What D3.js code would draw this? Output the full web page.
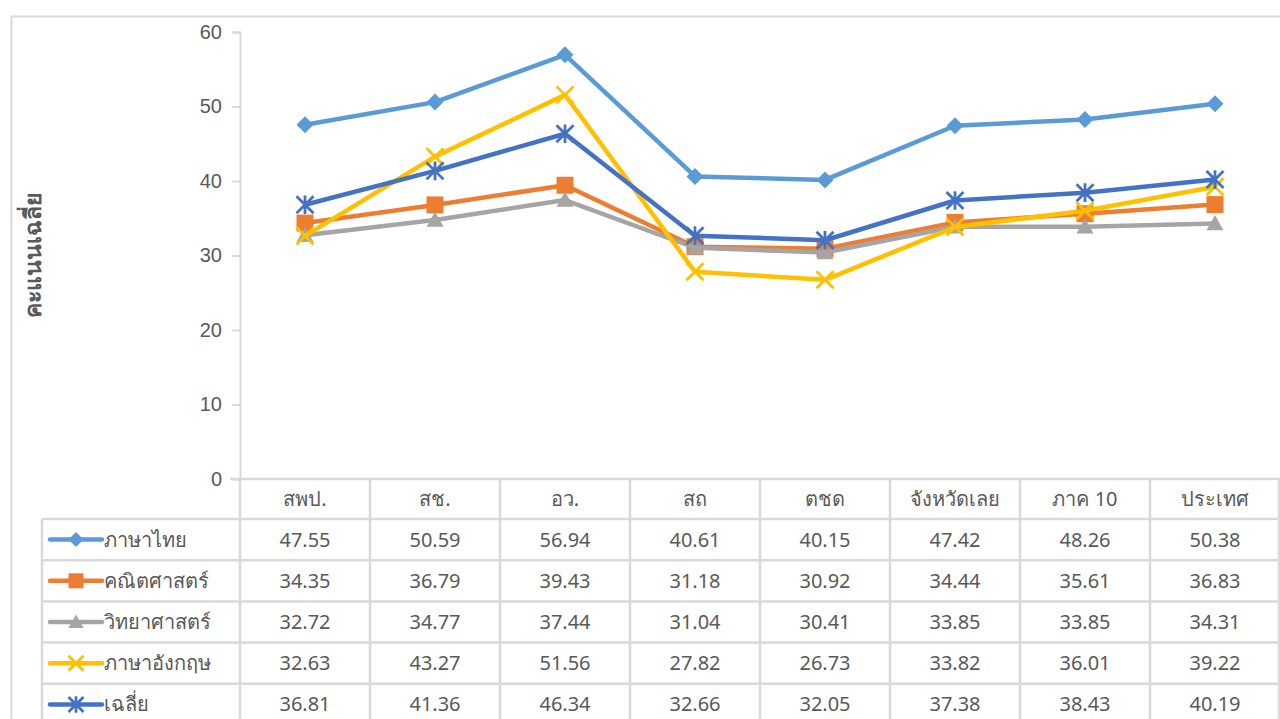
<!DOCTYPE html>
<html>
<head>
<meta charset="utf-8">
<script src="https://cdn.jsdelivr.net/npm/d3@7"></script>
<style>
  body { margin: 0; background: #fff; }
  svg { display: block; font-family: "Noto Sans", Tahoma, "DejaVu Sans", sans-serif; }
</style>
</head>
<body>
<svg width="1280" height="719"></svg>
<script>
// data
const categories = ["สพป.", "สช.", "อว.", "สถ", "ตชด", "จังหวัดเลย", "ภาค 10", "ประเทศ"];
const seriesNames = ["ภาษาไทย", "คณิตศาสตร์", "วิทยาศาสตร์", "ภาษาอังกฤษ", "เฉลี่ย"];
const thai = [47.55, 50.59, 56.94, 40.61, 40.15, 47.42, 48.26, 50.38];
const math = [34.35, 36.79, 39.43, 31.18, 30.92, 34.44, 35.61, 36.83];
const science = [32.72, 34.77, 37.44, 31.04, 30.41, 33.85, 33.85, 34.31];
const english = [32.63, 43.27, 51.56, 27.82, 26.73, 33.82, 36.01, 39.22];
const average = [36.81, 41.36, 46.34, 32.66, 32.05, 37.38, 38.43, 40.19];
const yTicks = [0, 10, 20, 30, 40, 50, 60];

const colors = ["#5B9BD5", "#ED7D31", "#A5A5A5", "#FFC000", "#4472C4"];
const markers = ["diamond", "square", "triangle", "x", "star"];
const series = [thai, math, science, english, average].map((v, i) => ({
  name: seriesNames[i], values: v, color: colors[i], marker: markers[i]
}));

const svg = d3.select("svg");
const grey = "#595959", rule = "#d9d9d9";

// outer chart border
svg.append("rect").attr("x", 11.5).attr("y", 16.5).attr("width", 1300).attr("height", 800)
  .attr("fill", "none").attr("stroke", rule).attr("stroke-width", 2);

const plotLeft = 240, plotRight = 1280, plotTop = 32, plotBottom = 479;
const x = d3.scaleBand().domain(categories).range([plotLeft, plotRight]);
const y = d3.scaleLinear().domain([0, 60]).range([plotBottom, plotTop]);
const cx = j => x(categories[j]) + x.bandwidth() / 2;

// y axis
const yAxis = svg.append("g").attr("transform", `translate(${plotLeft},0)`)
  .call(d3.axisLeft(y).tickValues(yTicks).tickSize(8).tickPadding(10));
yAxis.select(".domain").attr("stroke", rule).attr("stroke-width", 2);
yAxis.selectAll(".tick line").attr("stroke", rule).attr("stroke-width", 2);
yAxis.selectAll(".tick text").attr("fill", grey).style("font-size", "20px")
  .style("font-family", "inherit");

svg.append("text").attr("transform", `translate(41,255) rotate(-90)`)
  .attr("text-anchor", "middle").attr("fill", grey).style("font-size", "23px")
  .style("font-weight", "bold").text("คะแนนเฉลี่ย");

// data table
const rowH = 41.2, headTop = plotBottom, headBot = 519, tableLeft = 42;
const rowY = i => headBot + i * rowH;
const tbl = svg.append("g");
tbl.append("line").attr("x1", plotLeft - 10).attr("x2", plotRight).attr("y1", headTop).attr("y2", headTop);
d3.range(0, seriesNames.length + 1).forEach(i => {
  tbl.append("line").attr("x1", tableLeft).attr("x2", plotRight).attr("y1", rowY(i)).attr("y2", rowY(i));
});
tbl.append("line").attr("x1", tableLeft).attr("x2", tableLeft).attr("y1", headBot).attr("y2", 760);
categories.forEach(c => {
  tbl.append("line").attr("x1", x(c)).attr("x2", x(c)).attr("y1", headTop).attr("y2", 760);
});
tbl.append("line").attr("x1", plotRight - 1).attr("x2", plotRight - 1).attr("y1", headTop).attr("y2", 760);
tbl.selectAll("line").attr("stroke", rule).attr("stroke-width", 2.5);

// header labels
svg.append("g").selectAll("text").data(categories).join("text")
  .attr("x", d => x(d) + x.bandwidth() / 2).attr("y", (headTop + headBot) / 2 + 7)
  .attr("text-anchor", "middle").attr("fill", grey).style("font-size", "20px")
  .text(d => d);

// value cells
series.forEach((s, i) => {
  svg.append("g").selectAll("text").data(s.values).join("text")
    .attr("x", (d, j) => cx(j))
    .attr("y", rowY(i) + rowH / 2 + 7)
    .attr("text-anchor", "middle").attr("fill", grey).style("font-size", "20px")
    .text(d => d.toFixed(2));
});

// marker drawing
function drawMarker(g, type, color, size) {
  const r = size / 2;
  if (type === "diamond") {
    g.append("path").attr("d", `M0,${-r}L${r},0L0,${r}L${-r},0Z`).attr("fill", color);
  } else if (type === "square") {
    g.append("rect").attr("x", -r).attr("y", -r).attr("width", size).attr("height", size)
      .attr("fill", color);
  } else if (type === "triangle") {
    g.append("path").attr("d", `M0,${-r}L${r},${r * 0.8}L${-r},${r * 0.8}Z`).attr("fill", color);
  } else if (type === "x") {
    g.append("path").attr("d", `M${-r},${-r}L${r},${r}M${-r},${r}L${r},${-r}`)
      .attr("stroke", color).attr("stroke-width", 2.8);
  } else if (type === "star") {
    g.append("path").attr("d", `M${-r},${-r}L${r},${r}M${-r},${r}L${r},${-r}M0,${-r * 1.1}L0,${r * 1.1}`)
      .attr("stroke", color).attr("stroke-width", 2.8);
  }
}

// legend keys in table
series.forEach((s, i) => {
  const cy = rowY(i) + rowH / 2;
  const g = svg.append("g");
  g.append("line").attr("x1", 50).attr("x2", 102).attr("y1", cy).attr("y2", cy)
    .attr("stroke", s.color).attr("stroke-width", 4.5).attr("stroke-linecap", "round");
  drawMarker(g.append("g").attr("transform", `translate(76,${cy})`), s.marker, s.color, 15);
  g.append("text").attr("x", 104).attr("y", cy + 7).attr("fill", grey).style("font-size", "20px")
    .text(s.name);
});

// lines
const line = d3.line().x((d, j) => cx(j)).y(d => y(d));
series.forEach(s => {
  svg.append("path").datum(s.values).attr("d", line).attr("fill", "none")
    .attr("stroke", s.color).attr("stroke-width", 4.5).attr("stroke-linejoin", "round");
  s.values.forEach((v, j) => {
    drawMarker(svg.append("g").attr("transform", `translate(${cx(j)},${y(v)})`),
      s.marker, s.color, 17);
  });
});
</script>
</body>
</html>
